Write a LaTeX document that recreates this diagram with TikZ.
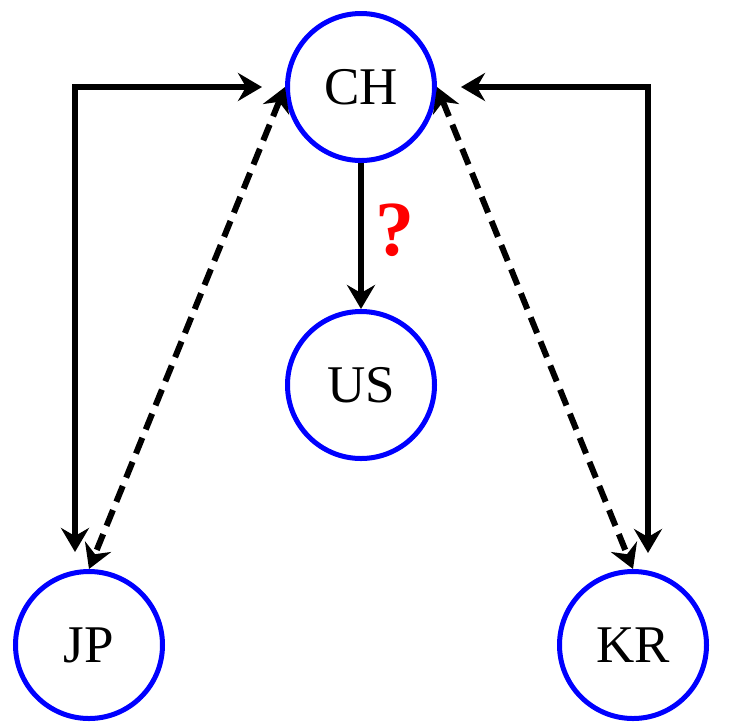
\documentclass[tikz,border=0pt]{standalone}
\usepackage{fontspec}
\setmainfont{Liberation Serif}
\usetikzlibrary{arrows.meta}
\begin{document}
\begin{tikzpicture}[x=1pt,y=-1pt,
  country/.style={circle,draw=blue,line width=5pt,minimum size=147pt,inner sep=0pt,font=\fontsize{53}{56}\selectfont},
  link/.style={line width=6pt,-{Stealth[length=24pt,width=28pt,inset=8pt]}},
  twoway/.style={line width=6pt,{Stealth[length=24pt,width=28pt,inset=8pt]}-{Stealth[length=24pt,width=28pt,inset=8pt]}},
  guess/.style={dash pattern=on 17pt off 9pt}]
  \useasboundingbox (0,0) rectangle (730,724);
  \node[country] (CH) at (361,87) {CH};
  \node[country] (US) at (361,385) {US};
  \node[country] (JP) at (89,645) {JP};
  \node[country] (KR) at (633,645) {KR};
  % corner and end points of the outer routes
  \coordinate (lcorner) at (75,87);
  \coordinate (lright) at (262,87);
  \coordinate (ldown) at (75,552);
  \coordinate (rcorner) at (648,87);
  \coordinate (rleft) at (461,87);
  \coordinate (rdown) at (648,553);
  \draw[twoway] (ldown) -- (lcorner) -- (lright);
  \draw[twoway] (rdown) -- (rcorner) -- (rleft);
  \draw[twoway,guess] (CH.west) -- (JP.north);
  \draw[twoway,guess] (CH.east) -- (KR.north);
  \draw[link] (CH.south) -- (US.north);
  \node[text=red,font=\fontsize{78}{80}\selectfont\bfseries] (q) at (395,230) {?};
\end{tikzpicture}
\end{document}
